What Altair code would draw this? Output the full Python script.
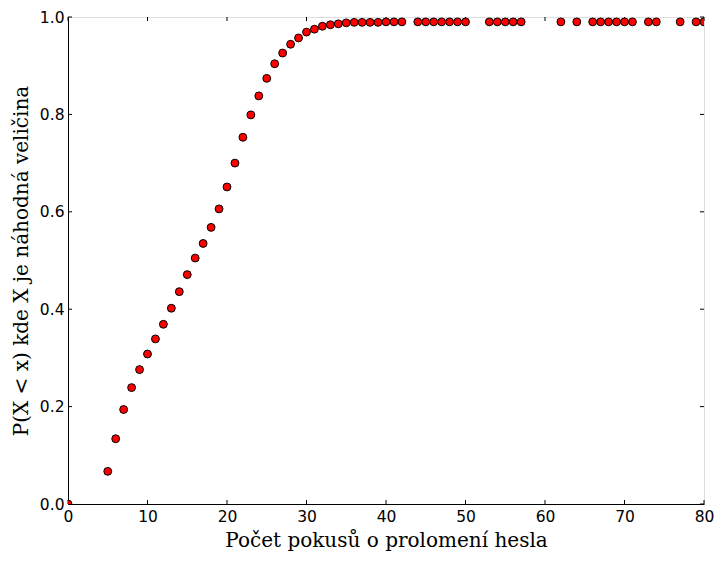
import altair as alt
import pandas as pd

# Data
attempts = [0, 5, 6, 7, 8, 9, 10, 11, 12, 13, 14, 15, 16, 17, 18, 19, 20,
            21, 22, 23, 24, 25, 26, 27, 28, 29, 30, 31, 32, 33, 34, 35, 36,
            37, 38, 39, 40, 41, 42, 44, 45, 46, 47, 48, 49, 50, 53, 54, 55,
            56, 57, 62, 64, 66, 67, 68, 69, 70, 71, 73, 74, 77, 79, 80]
probability = [0.0, 0.067, 0.134, 0.194, 0.239, 0.276, 0.308, 0.339, 0.369,
               0.402, 0.436, 0.471, 0.505, 0.535, 0.568, 0.606, 0.651, 0.700,
               0.753, 0.799, 0.838, 0.874, 0.904, 0.926, 0.944, 0.957, 0.969,
               0.975, 0.981, 0.984, 0.986, 0.988, 0.989, 0.989, 0.989, 0.989,
               0.990, 0.990, 0.990, 0.990, 0.990, 0.990, 0.990, 0.990, 0.990,
               0.990, 0.990, 0.990, 0.990, 0.990, 0.990, 0.990, 0.990, 0.990,
               0.990, 0.990, 0.990, 0.990, 0.990, 0.990, 0.990, 0.990, 0.990,
               0.990]
x_ticks = [0, 10, 20, 30, 40, 50, 60, 70, 80]
y_ticks = [0.0, 0.2, 0.4, 0.6, 0.8, 1.0]

W, H = 636, 487

df = pd.DataFrame({"x": attempts, "p": probability})
xt = pd.DataFrame({"x": x_ticks})
yt = pd.DataFrame({"y": y_ticks})

xscale = alt.Scale(domain=[0, 80], nice=False, zero=False)
yscale = alt.Scale(domain=[0, 1], nice=False, zero=False)

x_axis = alt.Axis(values=x_ticks, ticks=False, grid=False, labelFlush=False,
                  labelOverlap=False, labelFont="DejaVu Sans", labelFontSize=15.5,
                  labelColor="black", labelPadding=5, domainColor="black",
                  title="Počet pokusů o prolomení hesla", titleFont="DejaVu Serif",
                  titleFontSize=20, titleFontWeight="normal", titleColor="black",
                  titlePadding=6)
y_axis = alt.Axis(values=y_ticks, format=".1f", ticks=False, grid=False,
                  labelFlush=False, labelOverlap=False, labelFont="DejaVu Sans",
                  labelFontSize=15.5, labelColor="black", labelPadding=4,
                  domainColor="black",
                  title="P(X < x) kde X je náhodná veličina", titleFont="DejaVu Serif",
                  titleFontSize=20, titleFontWeight="normal", titleColor="black",
                  titlePadding=8)

points = alt.Chart(df).mark_point(
    filled=True, fill="#ff0000", stroke="black", strokeWidth=1, size=62,
    opacity=1, clip=True
).encode(
    x=alt.X("x:Q", scale=xscale, axis=x_axis),
    y=alt.Y("p:Q", scale=yscale, axis=y_axis),
)

tick_style = dict(color="black", strokeWidth=1)
bottom = alt.Chart(xt).mark_rule(**tick_style).encode(
    x=alt.X("x:Q", scale=xscale), y=alt.value(H), y2=alt.value(H - 4))
top = alt.Chart(xt).mark_rule(**tick_style).encode(
    x=alt.X("x:Q", scale=xscale), y=alt.value(0), y2=alt.value(4))
left = alt.Chart(yt).mark_rule(**tick_style).encode(
    y=alt.Y("y:Q", scale=yscale), x=alt.value(0), x2=alt.value(4))
right = alt.Chart(yt).mark_rule(**tick_style).encode(
    y=alt.Y("y:Q", scale=yscale), x=alt.value(W), x2=alt.value(W - 4))

chart = alt.layer(bottom, top, left, right, points).properties(
    width=W, height=H,
    autosize=alt.AutoSizeParams(type="none"),
    padding={"left": 60, "top": 9, "right": 11, "bottom": 50},
).configure_view(stroke="black", strokeWidth=1).configure(background="white")

chart.save("out.html", embed_options={"renderer": "svg", "actions": False})
